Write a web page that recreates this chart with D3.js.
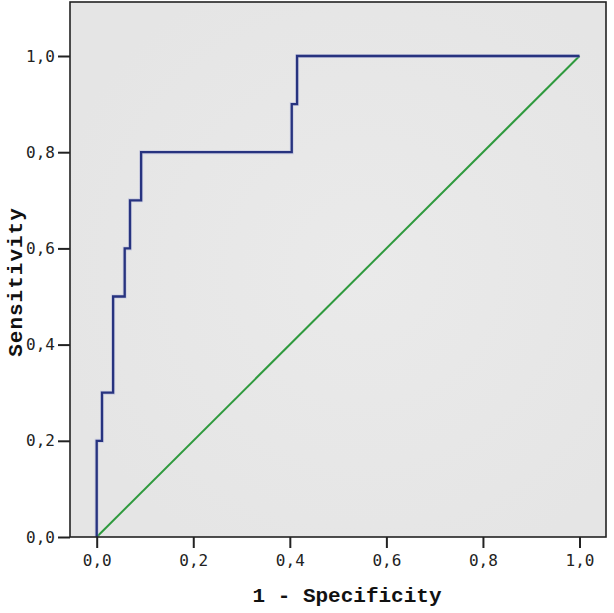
<!DOCTYPE html>
<html>
<head>
<meta charset="utf-8">
<script src="https://cdn.jsdelivr.net/npm/d3@7"></script>
<style>
  html, body { margin: 0; padding: 0; background: #fff; }
  svg { display: block; }
</style>
</head>
<body>
<svg id="chart" width="614" height="613"></svg>
<script>
// ROC step curve (1 - specificity, sensitivity)
const fpr = [0, 0, 0.011, 0.011, 0.034, 0.034, 0.058, 0.058, 0.069, 0.069, 0.092, 0.092, 0.404, 0.404, 0.415, 0.415, 1.0]
const tpr = [0, 0.2, 0.2, 0.3, 0.3, 0.5, 0.5, 0.6, 0.6, 0.7, 0.7, 0.8, 0.8, 0.9, 0.9, 1.0, 1.0]
const refLine = [[0, 0], [1, 1]]
const ticks = [0, 0.2, 0.4, 0.6, 0.8, 1.0]

const svg = d3.select('#chart')

const frame = { left: 70, top: 2, right: 606, bottom: 537 }

const x = d3.scaleLinear().domain([0, 1]).range([96.7, 579.5])
const y = d3.scaleLinear().domain([0, 1]).range([537, 56])

const fmt = d => d3.format('.1f')(d).replace('.', ',')

// 背景グラデーション
const defs = svg.append('defs')
const grad = defs.append('radialGradient').attr('id', 'bg').attr('cx', '0.55').attr('cy', '0.5').attr('r', '0.6')
grad.append('stop').attr('offset', '0%').attr('stop-color', '#eaeaea')
grad.append('stop').attr('offset', '100%').attr('stop-color', '#e5e5e5')

svg.append('rect')
  .attr('x', frame.left)
  .attr('y', frame.top)
  .attr('width', frame.right - frame.left)
  .attr('height', frame.bottom - frame.top)
  .attr('fill', 'url(#bg)')

// 対角線
svg.append('path')
  .datum(refLine)
  .attr('d', d3.line().x(d => x(d[0])).y(d => y(d[1])))
  .attr('fill', 'none')
  .attr('stroke', '#2f9a3e')
  .attr('stroke-width', 2)

// ROC曲線
const pts = fpr.map((v, i) => [v, tpr[i]])
svg.append('path')
  .datum(pts)
  .attr('d', d3.line().x(d => x(d[0])).y(d => y(d[1])))
  .attr('fill', 'none')
  .attr('stroke', '#9aa0d8')
  .attr('stroke-width', 4)
  .attr('stroke-opacity', 0.35)
svg.append('path')
  .datum(pts)
  .attr('d', d3.line().x(d => x(d[0])).y(d => y(d[1])))
  .attr('fill', 'none')
  .attr('stroke', '#27337f')
  .attr('stroke-width', 2.3)

// 枠線
svg.append('rect')
  .attr('x', frame.left)
  .attr('y', frame.top)
  .attr('width', frame.right - frame.left)
  .attr('height', frame.bottom - frame.top)
  .attr('fill', 'none')
  .attr('stroke', '#222')
  .attr('stroke-width', 1.6)

// X軸
const xAxis = d3.axisBottom(x).tickValues(ticks).tickFormat(fmt).tickSize(11).tickPadding(7)
const gx = svg.append('g').attr('transform', `translate(0,${frame.bottom})`).call(xAxis)
gx.select('.domain').remove()

// Y軸
const yAxis = d3.axisLeft(y).tickValues(ticks).tickFormat(fmt).tickSize(12).tickPadding(3)
const gy = svg.append('g').attr('transform', `translate(${frame.left},0)`).call(yAxis)
gy.select('.domain').remove()

svg.selectAll('.tick line').attr('stroke', '#222').attr('stroke-width', 2)
svg.selectAll('.tick text')
  .attr('font-family', 'DejaVu Sans Mono, monospace')
  .attr('font-size', 16)
  .attr('fill', '#222')

// 軸タイトル
svg.append('text')
  .attr('x', 347)
  .attr('y', 602)
  .attr('text-anchor', 'middle')
  .attr('font-family', 'Liberation Mono, monospace')
  .attr('font-weight', 'bold')
  .attr('font-size', 21)
  .attr('fill', '#111')
  .text('1 - Specificity')

svg.append('text')
  .attr('transform', 'translate(22,282) rotate(-90)')
  .attr('text-anchor', 'middle')
  .attr('font-family', 'Liberation Mono, monospace')
  .attr('font-weight', 'bold')
  .attr('font-size', 21)
  .attr('letter-spacing', 1)
  .attr('fill', '#111')
  .text('Sensitivity')
</script>
</body>
</html>
